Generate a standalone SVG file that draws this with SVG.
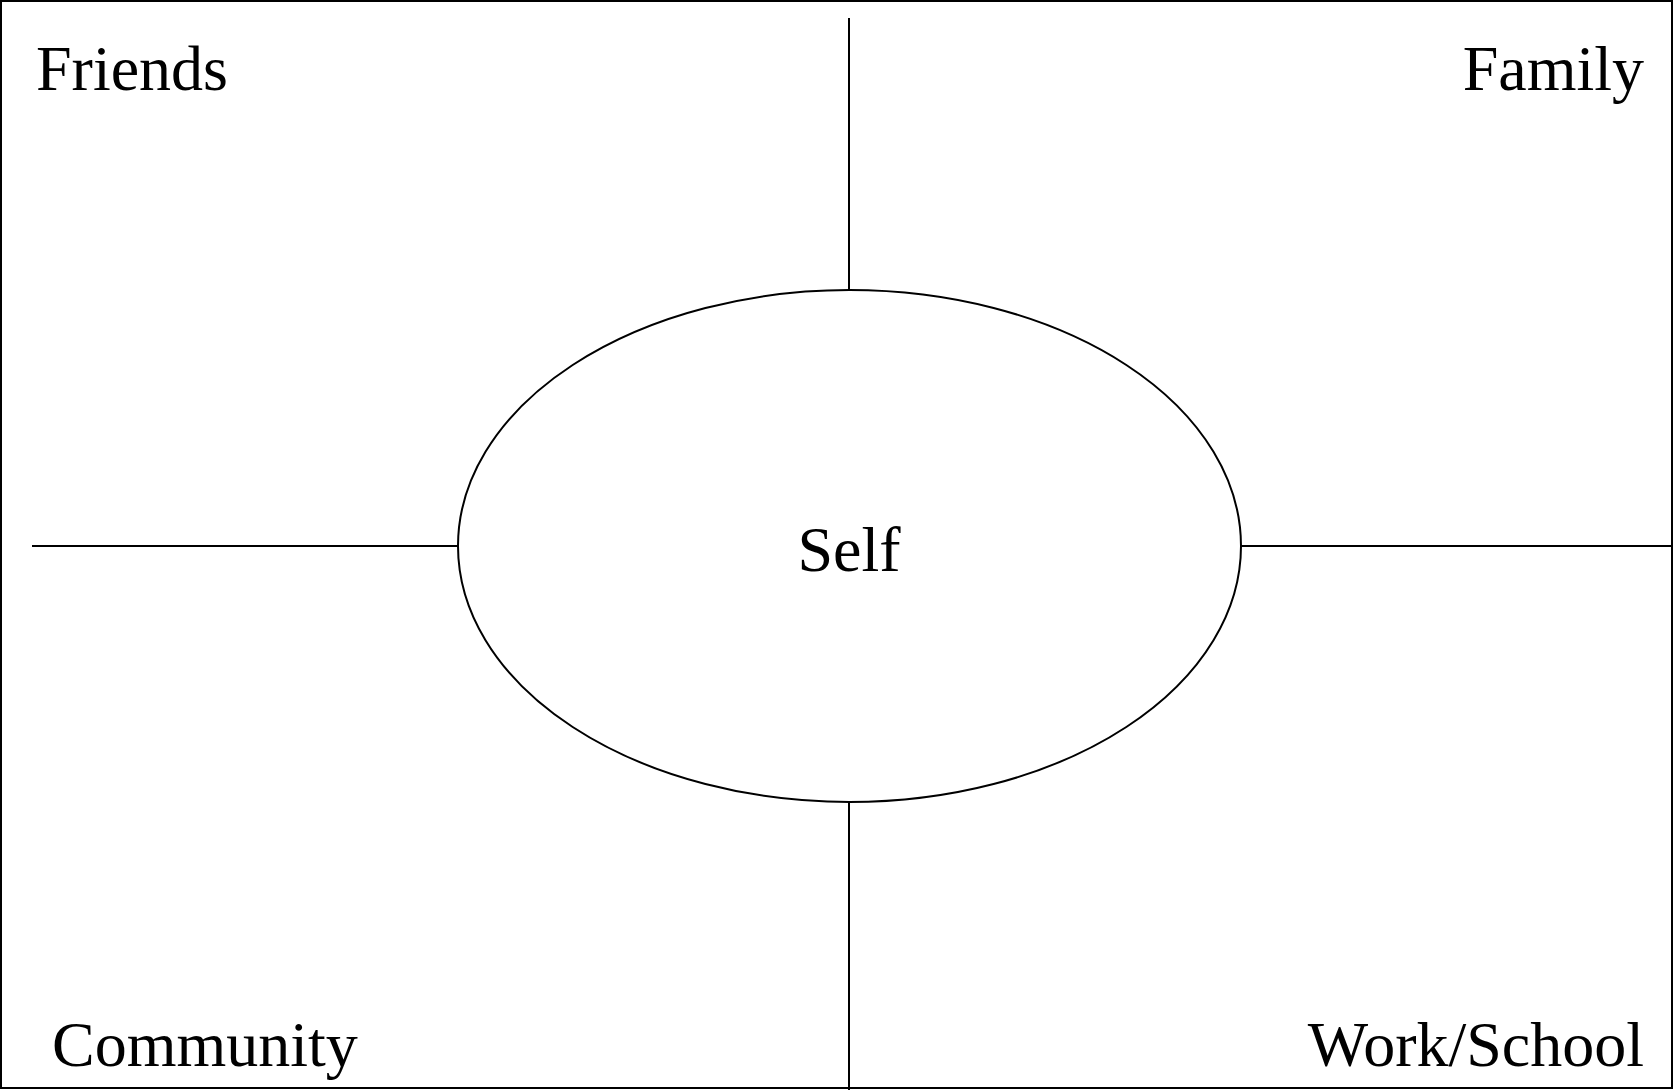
<svg xmlns="http://www.w3.org/2000/svg" width="1673" height="1090" viewBox="0 0 1673 1090">
<style>
.ln{stroke:#000;stroke-width:2;fill:none}
.lbl{font-family:"Liberation Serif","Times New Roman",serif;font-size:64px;fill:#000}
</style>
<rect x="0" y="0" width="1673" height="1090" fill="#fff"/>
<rect x="1" y="1" width="1671" height="1087" fill="none" stroke="#000" stroke-width="2"/>
<g id="connectors">
<line class="ln" x1="849" y1="18" x2="849" y2="290"/>
<line class="ln" x1="849" y1="802" x2="849" y2="1090"/>
<line class="ln" x1="32" y1="546" x2="458" y2="546"/>
<line class="ln" x1="1241" y1="546" x2="1673" y2="546"/>
</g>
<g id="self">
<ellipse class="ln" cx="849.5" cy="546" rx="391.5" ry="256" fill="#fff"/>
<text class="lbl" x="849" y="571" text-anchor="middle">Self</text>
</g>
<g id="friends"><text class="lbl" x="36" y="90">Friends</text></g>
<g id="family"><text class="lbl" x="1644" y="90" text-anchor="end">Family</text></g>
<g id="community"><text class="lbl" x="52" y="1066">Community</text></g>
<g id="workschool"><text class="lbl" x="1644" y="1066" text-anchor="end">Work/School</text></g>
</svg>
